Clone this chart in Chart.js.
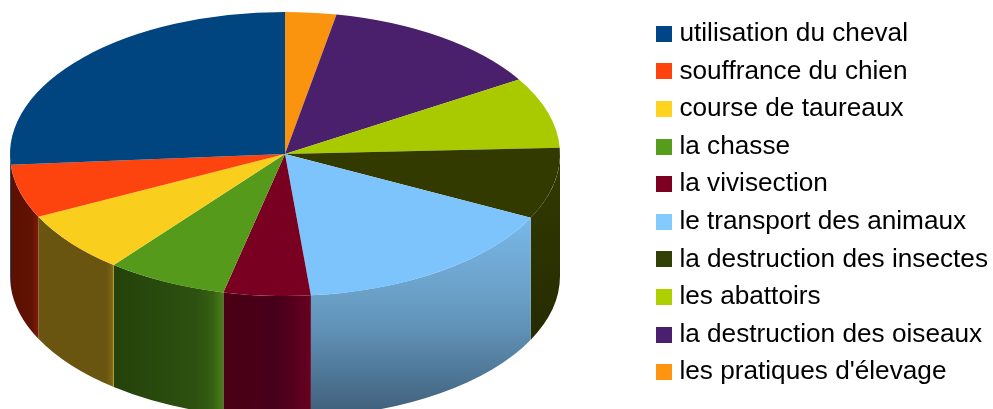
<!DOCTYPE html>
<html>
<head>
<meta charset="utf-8">
<title>3D pie</title>
<style>
  html, body { margin: 0; padding: 0; background: #fff; overflow: hidden; }
  canvas { display: block; }
</style>
<script src="https://cdn.jsdelivr.net/npm/chart.js@4/dist/chart.umd.min.js"></script>
</head>
<body>
<canvas id="pieChart" width="993" height="409"></canvas>
<script>
const categories = [
  'utilisation du cheval',
  'souffrance du chien',
  'course de taureaux',
  'la chasse',
  'la vivisection',
  'le transport des animaux',
  'la destruction des insectes',
  'les abattoirs',
  'la destruction des oiseaux',
  "les pratiques d'élevage",
];
const shares = [26.2, 6.1, 7.0, 7.1, 5.1, 16.1, 8.1, 8.1, 13.2, 3.0];
const legendColors = [
  '#004586', '#ff420e', '#ffd320', '#579d1c', '#7e0021',
  '#83caff', '#314004', '#aecf00', '#4b1f6f', '#ff950e',
];
// the top face is lit a bit darker than the legend boxes
const faceColors = [
  '#004480', '#fd430e', '#f9ce1d', '#559a1a', '#7a0022',
  '#7dc4fd', '#333a00', '#aaca00', '#4a206c', '#fa930e',
];

// side wall shading, vertical ones run top to bottom, others left to right
const wallStops = {
  'utilisation du cheval': [[0, '#002a55'], [1, '#002a55']],
  'souffrance du chien': [[0, '#5c1000'], [0.75, '#601203'], [1, '#7c1e08']],
  'course de taureaux': [[0, '#6a5510'], [0.9, '#6a5510'], [0.98, '#7d6517'], [1, '#b08c18']],
  'la chasse': [[0, '#24420a'], [0.75, '#2d5110'], [0.9, '#356012'], [1, '#467f18']],
  'la vivisection': [[0, '#4a0014'], [0.6, '#46001a'], [1, '#660020']],
  'le transport des animaux': [[0, '#78b8ea'], [0.41, '#6a9fc6'], [0.59, '#5f90b5'], [1, '#41627d']],
  'la destruction des insectes': [[0, '#333a00'], [1, '#252b00']],
};
const verticalWalls = ['le transport des animaux', 'la destruction des insectes'];

const pieBox = { cx: 285, cy: 154, rx: 275, ry: 142, depth: 122 };
const legendShift = 5;

function drawWall(ctx, name, from, to) {
  const { cx, cy, rx, ry, depth } = pieBox;
  const start = Math.max(from, 0);
  const end = Math.min(to, Math.PI);
  if (end <= start || !wallStops[name]) return;

  const left = cx + rx * Math.cos(end);
  const right = cx + rx * Math.cos(start);
  const top = cy + ry * Math.min(Math.sin(start), Math.sin(end));
  const grad = verticalWalls.includes(name)
    ? ctx.createLinearGradient(0, top, 0, top + 192)
    : ctx.createLinearGradient(left, 0, right, 0);
  wallStops[name].forEach(([at, color]) => grad.addColorStop(at, color));

  ctx.beginPath();
  ctx.ellipse(cx, cy, rx, ry, 0, start, end);
  ctx.ellipse(cx, cy + depth, rx, ry, 0, end, start, true);
  ctx.closePath();
  ctx.fillStyle = grad;
  ctx.fill();
}

// squash the round pie into the top face and put walls under it
const tiltPlugin = {
  id: 'tilt',
  afterLayout(chart) {
    // legend text runs nearly to the window edge, more than the library leaves
    chart.legend.left += legendShift;
    chart.legend.right += legendShift;
  },
  beforeDatasetsDraw(chart) {
    const ctx = chart.ctx;
    const arcs = chart.getDatasetMeta(0).data;
    const labels = chart.data.labels;
    arcs.forEach((arc, i) => drawWall(ctx, labels[i], arc.startAngle, arc.endAngle));

    const first = arcs[0];
    ctx.save();
    ctx.translate(pieBox.cx, pieBox.cy);
    ctx.scale(pieBox.rx / first.outerRadius, pieBox.ry / first.outerRadius);
    ctx.translate(-first.x, -first.y);
  },
  afterDatasetsDraw(chart) {
    chart.ctx.restore();
  },
};

function swatch(color) {
  const c = document.createElement('canvas');
  c.width = 16;
  c.height = 16;
  const g = c.getContext('2d');
  g.fillStyle = color;
  g.fillRect(0, 0, 16, 16);
  return c;
}

new Chart(document.getElementById('pieChart'), {
  type: 'pie',
  data: {
    // library draws clockwise, reference runs the other way round
    labels: categories.slice().reverse(),
    datasets: [{
      data: shares.slice().reverse(),
      backgroundColor: faceColors.slice().reverse(),
      borderWidth: 0,
      clip: false,
    }],
  },
  options: {
    responsive: false,
    animation: false,
    layout: { padding: { right: 0, bottom: 3 } },
    plugins: {
      tooltip: { enabled: false },
      legend: {
        position: 'right',
        reverse: true,
        labels: {
          usePointStyle: true,
          pointStyleWidth: 5,
          color: '#000',
          font: { family: '"Liberation Sans"', size: 26.2 },
          padding: 11.4,
          generateLabels(chart) {
            const items = Chart.overrides.pie.plugins.legend.labels.generateLabels(chart);
            return items.map((item) => {
              const color = legendColors[categories.indexOf(item.text)];
              return { ...item, pointStyle: swatch(color), lineWidth: 0 };
            });
          },
        },
      },
    },
  },
  plugins: [tiltPlugin],
});
</script>
</body>
</html>
